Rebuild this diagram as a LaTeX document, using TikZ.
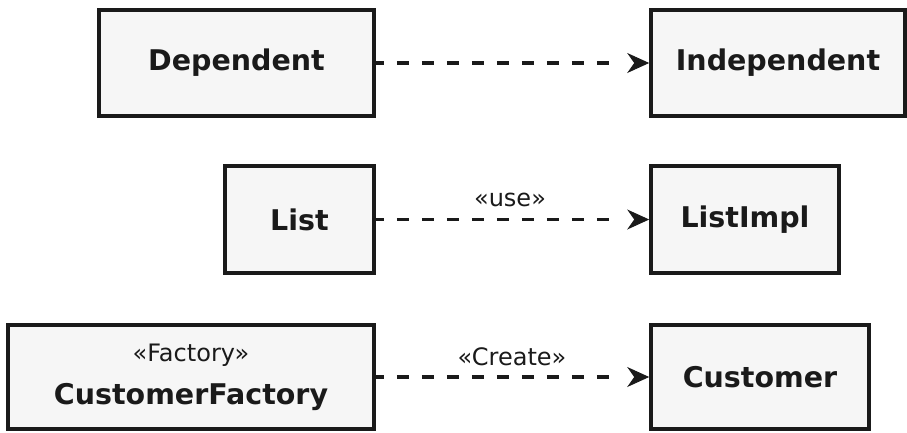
\documentclass[tikz,border=0pt]{standalone}
\usepackage{fontspec}
\setmainfont{DejaVu Sans}
\usetikzlibrary{arrows.meta,decorations.markings}
\definecolor{boxfill}{HTML}{F6F6F6}
\definecolor{ink}{HTML}{1A1A1A}
\tikzset{
  cls/.style={draw=ink, fill=boxfill, line width=3.6pt, inner sep=0pt, font=\fontsize{28.5}{32}\selectfont\bfseries, text=ink},
  dep/.style={draw=ink, line width=3.6pt, dash pattern=on 12pt off 13pt, dash phase=4pt, shorten >=30pt,
    postaction={draw=none, decorate, decoration={markings,
      mark=at position 1 with {\arrow[solid, draw=ink, fill=ink, line width=1pt]{Stealth[length=22pt,width=20pt,inset=7pt]}}}}},
  stereo/.style={font=\fontsize{24}{28}\selectfont, text=ink, inner sep=0pt}
}
\begin{document}
\begin{tikzpicture}[x=1pt,y=-1pt]
\useasboundingbox (0,0) rectangle (907,432);
\node[cls, minimum width=275pt, minimum height=106pt] (dependent) at (236.5,63) {Dependent};
\node[cls, minimum width=254pt, minimum height=106pt] (independent) at (778,63) {Independent};
\node[cls, minimum width=149pt, minimum height=107pt] (list) at (299.5,219.5) {List};
\node[cls, minimum width=188pt, minimum height=107pt] (listimpl) at (745,219.5) {ListImpl};
\node[cls, minimum width=366pt, minimum height=104pt] (factory) at (191,377) {};
\node[stereo] (factorystereo) at (191,355) {«Factory»};
\node[cls, draw=none, fill=none] (factoryname) at (191,397) {CustomerFactory};
\node[cls, minimum width=218pt, minimum height=104pt] (customer) at (760,377) {Customer};
\draw[dep] (dependent.east) -- (independent.west);
\draw[dep] (list.east) -- (listimpl.west);
\draw[dep] (factory.east |- customer.west) -- (customer.west);
\node[stereo] (uselabel) at (510,200) {«use»};
\node[stereo] (createlabel) at (512,357) {«Create»};
\end{tikzpicture}
\end{document}
